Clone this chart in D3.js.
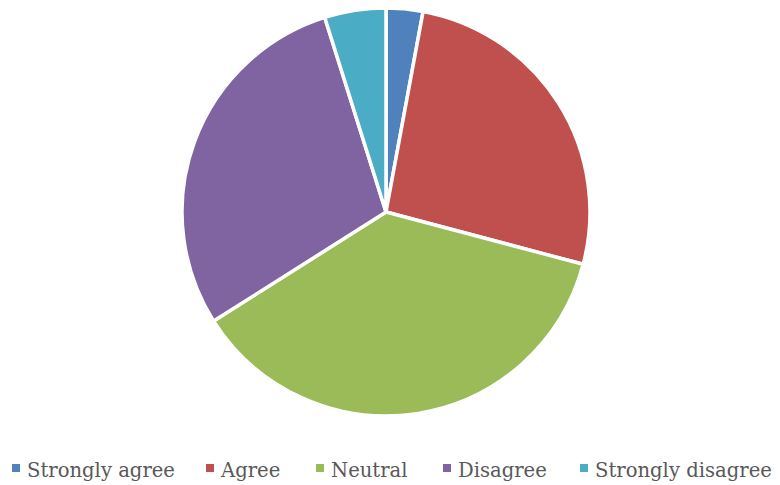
<!DOCTYPE html>
<html>
<head>
<meta charset="utf-8">
<script src="https://cdn.jsdelivr.net/npm/d3@7"></script>
<style>
  html, body { margin: 0; padding: 0; background: #fff; }
  svg { display: block; }
</style>
</head>
<body>
<svg id="chart" width="780" height="485"></svg>
<script>
// Survey responses
const categories = ["Strongly agree", "Agree", "Neutral", "Disagree", "Strongly disagree"];
const counts = [3, 27, 38, 30, 5];
const colors = ["#4F81BD", "#C0504D", "#9BBB59", "#8064A2", "#4BACC6"];

const svg = d3.select("#chart");
const cx = 386, cy = 212, radius = 204;

const pie = d3.pie().sort(null).value(d => d.value);
const arc = d3.arc().innerRadius(0).outerRadius(radius);
const color = d3.scaleOrdinal().domain(categories).range(colors);

const data = categories.map((c, i) => ({ name: c, value: counts[i] }));

svg.append("g")
  .attr("transform", `translate(${cx},${cy})`)
  .selectAll("path")
  .data(pie(data))
  .join("path")
  .attr("d", arc)
  .attr("fill", d => color(d.data.name))
  .attr("stroke", "#fff")
  .attr("stroke-width", 3.5)
  .attr("stroke-linejoin", "round");

// Legend along the bottom
const legendX = [12, 206, 316, 443, 580];
const legend = svg.append("g")
  .selectAll("g")
  .data(categories)
  .join("g")
  .attr("transform", (d, i) => `translate(${legendX[i]},0)`);

legend.append("rect")
  .attr("x", 0).attr("y", 464)
  .attr("width", 8).attr("height", 8)
  .attr("fill", d => color(d));

legend.append("text")
  .attr("x", 15).attr("y", 477)
  .attr("font-family", "'DejaVu Serif', serif")
  .attr("font-size", 19.6)
  .attr("fill", "#595959")
  .text(d => d);
</script>
</body>
</html>
